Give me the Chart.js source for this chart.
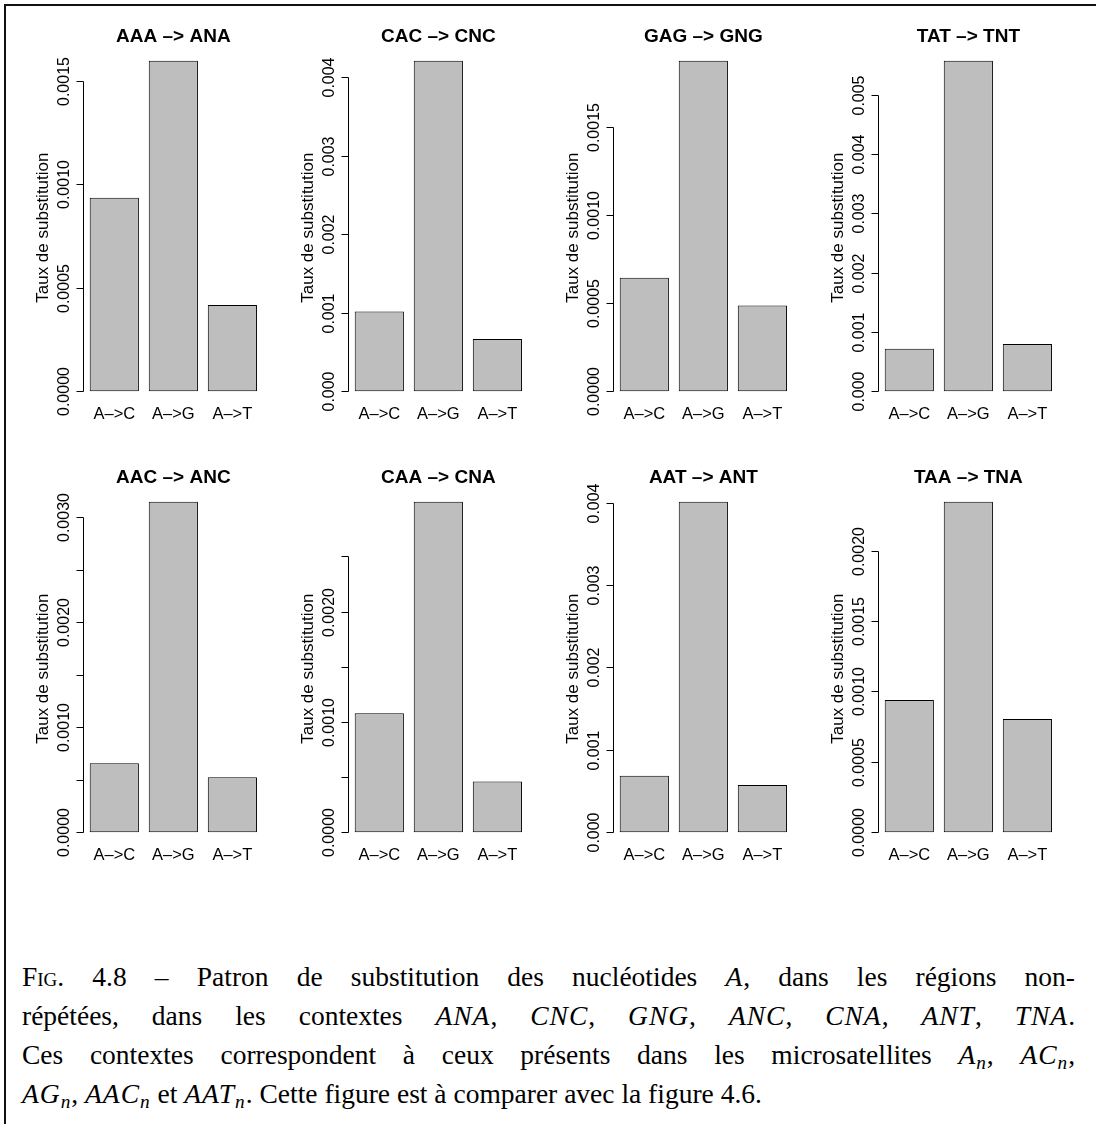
<!DOCTYPE html>
<html>
<head>
<meta charset="utf-8">
<script src="https://cdn.jsdelivr.net/npm/chart.js@4.4.0/dist/chart.umd.min.js"></script>
<style>
  html, body { margin: 0; padding: 0; background: #fff; }
  body { width: 1096px; height: 1124px; position: relative; overflow: hidden; }
  #frame {
    position: absolute; left: 4px; top: 4px; width: 1300px; height: 1300px;
    border-top: 2px solid #111; border-left: 2px solid #111;
  }
  .panel { position: absolute; width: 265px; height: 441px; }
  #caption {
    position: absolute; left: 22px; top: 957px; width: 1053px;
    font-family: "Liberation Serif", "Times New Roman", serif; font-size: 27.5px; color: #000;
  }
  #caption .line { height: 39px; line-height: 39px; text-align: justify; text-align-last: justify; }
  #caption .line.last { text-align: left; text-align-last: left; }
  #caption i { letter-spacing: 1px; }
  #caption sub { font-size: 70%; vertical-align: -0.25em; line-height: 0; }
  .sc { font-variant: small-caps; }
</style>
</head>
<body>
<div id="frame"></div>
<div id="panels"></div>
<div id="caption">
  <div class="line"><span class="sc">Fig.</span> 4.8 – Patron de substitution des nucléotides <i>A</i>, dans les régions non-</div>
  <div class="line">répétées, dans les contextes <i>ANA</i>, <i>CNC</i>, <i>GNG</i>, <i>ANC</i>, <i>CNA</i>, <i>ANT</i>, <i>TNA</i>.</div>
  <div class="line">Ces contextes correspondent à ceux présents dans les microsatellites <i>A<sub>n</sub></i>, <i>AC<sub>n</sub></i>,</div>
  <div class="line last"><i>AG<sub>n</sub></i>, <i>AAC<sub>n</sub></i> et <i>AAT<sub>n</sub></i>. Cette figure est à comparer avec la figure 4.6.</div>
</div>

<script>
// categories shared by every panel
const categories = ['A–>C', 'A–>G', 'A–>T'];

const panelTitles = [
  'AAA –> ANA', 'CAC –> CNC', 'GAG –> GNG', 'TAT –> TNT',
  'AAC –> ANC', 'CAA –> CNA', 'AAT –> ANT', 'TAA –> TNA'
];

// substitution rates (A->C, A->G, A->T)
const aaaAna = [0.000935, 0.001596, 0.000416];
const cacCnc = [0.001016, 0.004208, 0.000663];
const gagGng = [0.000643, 0.001873, 0.000486];
const tatTnt = [0.000715, 0.005574, 0.000794];
const aacAnc = [0.000657, 0.003149, 0.000524];
const caaCna = [0.001079, 0.002995, 0.000459];
const aatAnt = [0.000684, 0.004008, 0.000571];
const taaTna = [0.000940, 0.002348, 0.000805];

// y tick positions and their labels ('' = tick without label)
const ticks4dec = [0, 0.0005, 0.0010, 0.0015];
const labels4dec = ['0.0000', '0.0005', '0.0010', '0.0015'];
const ticksTo4 = [0, 0.001, 0.002, 0.003, 0.004];
const labelsTo4 = ['0.000', '0.001', '0.002', '0.003', '0.004'];
const ticksTo5 = [0, 0.001, 0.002, 0.003, 0.004, 0.005];
const labelsTo5 = ['0.000', '0.001', '0.002', '0.003', '0.004', '0.005'];
const ticksAac = [0, 0.0005, 0.0010, 0.0015, 0.0020, 0.0025, 0.0030];
const labelsAac = ['0.0000', '', '0.0010', '', '0.0020', '', '0.0030'];
const ticksCaa = [0, 0.0005, 0.0010, 0.0015, 0.0020, 0.0025];
const labelsCaa = ['0.0000', '', '0.0010', '', '0.0020', ''];
const ticksTaa = [0, 0.0005, 0.0010, 0.0015, 0.0020];
const labelsTaa = ['0.0000', '0.0005', '0.0010', '0.0015', '0.0020'];

const panels = [
  { title: panelTitles[0], values: aaaAna, ticks: ticks4dec, labels: labels4dec },
  { title: panelTitles[1], values: cacCnc, ticks: ticksTo4, labels: labelsTo4 },
  { title: panelTitles[2], values: gagGng, ticks: ticks4dec, labels: labels4dec },
  { title: panelTitles[3], values: tatTnt, ticks: ticksTo5, labels: labelsTo5 },
  { title: panelTitles[4], values: aacAnc, ticks: ticksAac, labels: labelsAac },
  { title: panelTitles[5], values: caaCna, ticks: ticksCaa, labels: labelsCaa },
  { title: panelTitles[6], values: aatAnt, ticks: ticksTo4, labels: labelsTo4 },
  { title: panelTitles[7], values: taaTna, ticks: ticksTaa, labels: labelsTaa }
];

const FONT = '"Liberation Sans", Arial, Helvetica, sans-serif';

// draws R-style axes, labels and title from the chart's own scales
const rAxesPlugin = {
  id: 'rAxes',
  afterDraw(chart) {
    const opts = chart.options.plugins.rAxes;
    const { ctx, chartArea } = chart;
    const xScale = chart.scales.x;
    const yScale = chart.scales.y;
    const axisX = Math.round(chartArea.left - 2) + 0.5;

    ctx.save();
    ctx.strokeStyle = '#000';
    ctx.fillStyle = '#000';
    ctx.lineWidth = 1;

    // y axis line from first to last tick
    const yFirst = yScale.getPixelForValue(opts.ticks[0]);
    const yLast = yScale.getPixelForValue(opts.ticks[opts.ticks.length - 1]);
    ctx.beginPath();
    ctx.moveTo(axisX, Math.round(yFirst) + 0.5);
    ctx.lineTo(axisX, Math.round(yLast) + 0.5);
    ctx.stroke();

    ctx.font = '16px ' + FONT;
    ctx.textAlign = 'center';
    ctx.textBaseline = 'middle';
    opts.ticks.forEach((v, i) => {
      const py = Math.round(yScale.getPixelForValue(v)) + 0.5;
      ctx.beginPath();
      ctx.moveTo(axisX, py);
      ctx.lineTo(axisX - 7, py);
      ctx.stroke();
      if (opts.labels[i]) {
        ctx.save();
        ctx.translate(axisX - 19, py);
        ctx.rotate(-Math.PI / 2);
        ctx.fillText(opts.labels[i], 0, 0);
        ctx.restore();
      }
    });

    // y axis title
    ctx.save();
    ctx.font = '17px ' + FONT;
    ctx.translate(axisX - 40, (chartArea.top + chartArea.bottom) / 2);
    ctx.rotate(-Math.PI / 2);
    ctx.fillText('Taux de substitution', 0, 0);
    ctx.restore();

    // category labels
    ctx.font = '16.5px ' + FONT;
    chart.data.labels.forEach((lab, i) => {
      ctx.fillText(lab, xScale.getPixelForValue(i), chartArea.bottom + 7);
    });

    // panel title
    ctx.font = 'bold 19px ' + FONT;
    ctx.fillText(opts.title, (chartArea.left + chartArea.right) / 2, chartArea.top - 10.5);
    ctx.restore();
  }
};

const holder = document.getElementById('panels');

panels.forEach((p, idx) => {
  const col = idx % 4;
  const row = Math.floor(idx / 4);
  const div = document.createElement('div');
  div.className = 'panel';
  div.style.left = (col * 265) + 'px';
  div.style.top = (row * 441) + 'px';
  const canvas = document.createElement('canvas');
  canvas.width = 265;
  canvas.height = 441;
  div.appendChild(canvas);
  holder.appendChild(div);

  const top = Math.max(...p.values);

  new Chart(canvas.getContext('2d'), {
    type: 'bar',
    data: {
      labels: categories,
      datasets: [{
        data: p.values,
        backgroundColor: '#bebebe',
        borderColor: '#000',
        borderWidth: 1,
        borderSkipped: false,
        barPercentage: 0.833,
        categoryPercentage: 1
      }]
    },
    options: {
      responsive: false,
      animation: false,
      devicePixelRatio: 1,
      layout: { padding: { left: 84.8, right: 3.1, top: 47.5, bottom: 33.2 } },
      plugins: {
        legend: { display: false },
        tooltip: { enabled: false },
        rAxes: { title: p.title, ticks: p.ticks, labels: p.labels }
      },
      scales: {
        x: { display: false },
        y: { display: false, min: -0.0504 * top, max: 1.0404 * top }
      }
    },
    plugins: [rAxesPlugin]
  });
});
</script>
</body>
</html>
